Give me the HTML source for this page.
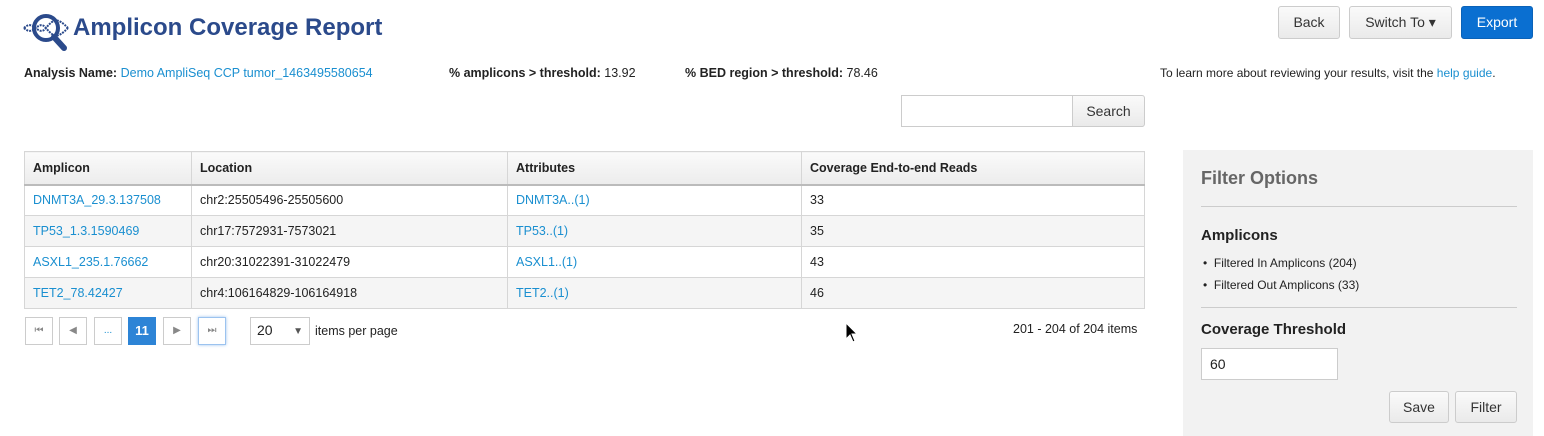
<!DOCTYPE html>
<html><head><meta charset="utf-8"><style>
body{margin:0;width:1544px;height:436px;background:#fff;font-family:"Liberation Sans",Arial,sans-serif;font-size:12.5px;color:#222;position:relative;overflow:hidden}
.a{position:absolute}
a,.l{color:#1a8fd0}
.btn{position:absolute;border:1px solid #ccc;border-radius:3px;background:linear-gradient(#fafafa,#eaeaea);font-size:14px;color:#333;text-align:center;box-sizing:border-box}
table{position:absolute;left:24px;top:151px;width:1121px;border-collapse:collapse;font-size:12.5px;table-layout:fixed}
td,th{border:1px solid #d6d6d6;padding:0 8px;text-align:left;height:31px;box-sizing:border-box}
th{height:33px;font-weight:bold;background:linear-gradient(#fafafa,#ececec);border-bottom:2px solid #bbb}
tr:nth-child(odd) td{background:#f5f5f5}
.pg{position:absolute;top:317px;width:28px;height:28px;border:1px solid #ccc;box-sizing:border-box;text-align:center;line-height:26px;font-size:10px;color:#888;background:#fff}
</style></head><body>
<svg class="a" style="left:22px;top:10px" width="48" height="42" viewBox="0 0 48 42">
<circle cx="24" cy="18" r="12" fill="none" stroke="#2b4a8b" stroke-width="4"/>
<line x1="32" y1="27" x2="42" y2="38" stroke="#2b4a8b" stroke-width="6" stroke-linecap="round"/>
<path d="M2 18 C12 8,16 28,24 18 S36 8,46 18 M2 18 C12 28,16 8,24 18 S36 28,46 18" fill="none" stroke="#2b4a8b" stroke-width="2" stroke-dasharray="2 1"/>
</svg>
<div class="a" style="left:73px;top:14px;font-size:24px;font-weight:bold;color:#2b4a8b">Amplicon Coverage Report</div>
<div class="btn" style="left:1278px;top:6px;width:62px;height:33px;line-height:31px">Back</div>
<div class="btn" style="left:1349px;top:6px;width:103px;height:33px;line-height:31px">Switch To ▾</div>
<div class="btn" style="left:1461px;top:6px;width:72px;height:33px;line-height:31px;background:#0a6fd1;border-color:#0a62b8;color:#fff">Export</div>
<div class="a" style="left:24px;top:66px"><b>Analysis Name:</b> <span class="l">Demo AmpliSeq CCP tumor_1463495580654</span></div>
<div class="a" style="left:449px;top:66px"><b>% amplicons &gt; threshold:</b> 13.92</div>
<div class="a" style="left:685px;top:66px"><b>% BED region &gt; threshold:</b> 78.46</div>
<div class="a" style="left:1160px;top:66px;font-size:12px">To learn more about reviewing your results, visit the <span class="l">help guide</span>.</div>
<div class="a" style="left:901px;top:95px;width:172px;height:32px;border:1px solid #ccc;box-sizing:border-box"></div>
<div class="btn" style="left:1072px;top:95px;width:73px;height:32px;line-height:30px;border-radius:0 3px 3px 0">Search</div>
<table>
<colgroup><col style="width:167px"><col style="width:316px"><col style="width:294px"><col></colgroup>
<tr><th>Amplicon</th><th>Location</th><th>Attributes</th><th>Coverage End-to-end Reads</th></tr>
<tr><td class="l">DNMT3A_29.3.137508</td><td>chr2:25505496-25505600</td><td class="l">DNMT3A..(1)</td><td>33</td></tr>
<tr><td class="l">TP53_1.3.1590469</td><td>chr17:7572931-7573021</td><td class="l">TP53..(1)</td><td>35</td></tr>
<tr><td class="l">ASXL1_235.1.76662</td><td>chr20:31022391-31022479</td><td class="l">ASXL1..(1)</td><td>43</td></tr>
<tr><td class="l">TET2_78.42427</td><td>chr4:106164829-106164918</td><td class="l">TET2..(1)</td><td>46</td></tr>
</table>
<div class="pg" style="left:25px">⏮</div>
<div class="pg" style="left:59px">◀</div>
<div class="pg" style="left:94px;color:#1a8fd0">...</div>
<div class="pg" style="left:128px;background:#2d84d6;border-color:#2d84d6;color:#fff;font-size:13px;font-weight:bold">11</div>
<div class="pg" style="left:163px">▶</div>
<div class="pg" style="left:198px;border-color:#9cc3ef;box-shadow:0 0 3px #9cc3ef">⏭</div>
<div class="a" style="left:250px;top:317px;width:60px;height:28px;border:1px solid #ccc;box-sizing:border-box;padding:4px 6px;font-size:14px">20<span style="position:absolute;right:6px;font-size:10px;color:#555;top:8px">▼</span></div>
<div class="a" style="left:315px;top:324px">items per page</div>
<div class="a" style="left:1013px;top:322px;font-size:12.5px">201 - 204 of 204 items</div>
<div class="a" style="left:1183px;top:150px;width:350px;height:286px;background:#f2f2f2"></div>
<div class="a" style="left:1201px;top:168px;font-size:18px;font-weight:bold;color:#666">Filter Options</div>
<div class="a" style="left:1201px;top:206px;width:316px;border-top:1px solid #ccc"></div>
<div class="a" style="left:1201px;top:227px;font-size:15px;font-weight:bold">Amplicons</div>
<div class="a" style="left:1203px;top:252px;font-size:12px;line-height:22px">• &nbsp;Filtered In Amplicons (204)<br>• &nbsp;Filtered Out Amplicons (33)</div>
<div class="a" style="left:1201px;top:307px;width:316px;border-top:1px solid #ccc"></div>
<div class="a" style="left:1201px;top:321px;font-size:15px;font-weight:bold">Coverage Threshold</div>
<div class="a" style="left:1201px;top:348px;width:137px;height:32px;border:1px solid #ccc;background:#fff;box-sizing:border-box;padding:7px 8px;font-size:14px">60</div>
<div class="btn" style="left:1389px;top:391px;width:60px;height:32px;line-height:30px">Save</div>
<div class="btn" style="left:1455px;top:391px;width:62px;height:32px;line-height:30px">Filter</div>
<svg class="a" style="left:845px;top:322px" width="14" height="22"><path d="M1 1 L1 17 L5 13 L8 20 L10 19 L7 12 L12 12 Z" fill="#000" stroke="#fff" stroke-width="1"/></svg>
</body></html>
